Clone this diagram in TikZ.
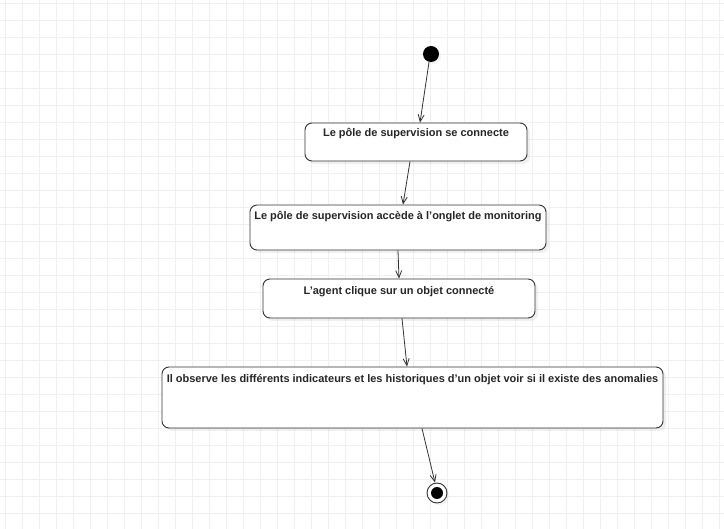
\documentclass[tikz,border=0pt]{standalone}
\usepackage{fontspec}
\setmainfont{Liberation Sans}
\usetikzlibrary{arrows.meta,positioning,shadows}
\definecolor{gridcol}{HTML}{F0F0F0}
\definecolor{linecol}{HTML}{333333}
\begin{document}
\begin{tikzpicture}[x=1pt, y=-1pt,
  statebox/.style={draw=linecol, line width=0.9pt, rounded corners=7pt, fill=white, inner sep=0pt,
    drop shadow={shadow xshift=3pt, shadow yshift=-3pt, opacity=0.12}},
  statetext/.style={font=\fontsize{11}{13}\selectfont\bfseries, text=black!85, inner sep=0pt, anchor=north},
  initstate/.style={circle, fill=black, minimum size=16pt, inner sep=0pt,
    drop shadow={shadow xshift=2pt, shadow yshift=-2pt, opacity=0.1}},
  finalstate/.style={circle, draw=linecol, line width=0.9pt, fill=white, minimum size=20pt, inner sep=0pt,
    drop shadow={shadow xshift=2pt, shadow yshift=-2pt, opacity=0.1},
    path picture={\fill[black] (path picture bounding box.center) circle (6pt);}},
  flow/.style={draw=linecol, line width=0.8pt, -{Straight Barb[length=7pt, width=6pt]}}]
\useasboundingbox (0,0) rectangle (724,529);
% grid
\foreach \gx in {0,...,42} \draw[gridcol, line width=0.9pt] (5+17*\gx,0) -- (5+17*\gx,529);
\foreach \gy in {0,...,30} \draw[gridcol, line width=0.9pt] (0,3.5+17*\gy) -- (724,3.5+17*\gy);
% states
\node[initstate] (start) at (431,54) {};
\node[statebox, minimum width=222pt, minimum height=38pt] (s1) at (416,142) {};
\node[statetext, below=6pt of s1.north] (t1) {Le pôle de supervision se connecte};
\node[statebox, minimum width=296pt, minimum height=45pt] (s2) at (398,227.5) {};
\node[statetext, below=7pt of s2.north] (t2) {Le pôle de supervision accède à l’onglet de monitoring};
\node[statebox, minimum width=272pt, minimum height=39pt] (s3) at (399,298.5) {};
\node[statetext, below=7.5pt of s3.north] (t3) {L’agent clique sur un objet connecté};
\node[statebox, minimum width=501pt, minimum height=61pt] (s4) at (412.5,397.5) {};
\node[statetext, below=7.5pt of s4.north] (t4) {Il observe les différents indicateurs et les historiques d’un objet voir si il existe des anomalies};
\node[finalstate] (end) at (437,493) {};
% transitions
\draw[flow] ([xshift=-2pt]start.south) -- ([xshift=4pt]s1.north);
\draw[flow] ([xshift=-6pt]s1.south) -- ([xshift=5pt]s2.north);
\draw[flow] (s2.south) -- (s3.north);
\draw[flow] ([xshift=3pt]s3.south) -- ([xshift=-5.5pt]s4.north);
\draw[flow] ([xshift=9.5pt]s4.south) -- ([xshift=-2pt]end.north);
\end{tikzpicture}
\end{document}
